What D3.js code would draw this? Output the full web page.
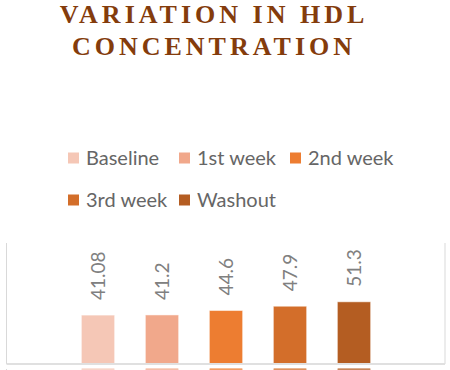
<!DOCTYPE html>
<html>
<head>
<meta charset="utf-8">
<script src="https://cdn.jsdelivr.net/npm/d3@7"></script>
<style>
  body { margin: 0; background: #fff; }
  svg { display: block; }
</style>
</head>
<body>
<div id="canvas"></div>
<script>
"use strict"
let svgWidth = 450;
let svgHeight = 370;

let periods = ["Baseline", "1st week", "2nd week", "3rd week", "Washout"];
let hdlValues = [41.08, 41.2, 44.6, 47.9, 51.3];
let valueLabels = ["41.08", "41.2", "44.6", "47.9", "51.3"];
let periodColors = ["#F5C7B6", "#F1A88B", "#ED7D31", "#D36E2A", "#B45D22"];

let plotLeft = 6.5;
let plotRight = 445;
let plotTop = 243;
let axisY = 364;

let svg = d3.select("#canvas")
    .append("svg")
    .attr("width", svgWidth)
    .attr("height", svgHeight);

svg.append("rect")
    .attr("width", svgWidth)
    .attr("height", svgHeight)
    .attr("fill", "white");

// title
let titleLines = ["VARIATION IN HDL", "CONCENTRATION"];
for (let i = 0; i < titleLines.length; i++) {
    svg.append("text")
        .attr("x", 214)
        .attr("y", 23 + i * 32)
        .attr("text-anchor", "middle")
        .attr("font-family", "Liberation Serif")
        .attr("font-weight", "bold")
        .attr("font-size", 26)
        .attr("letter-spacing", 4)
        .attr("fill", "#843C0C")
        .text(titleLines[i]);
}

// legend
for (let i = 0; i < periods.length; i++) {
    let lx = 68 + (i % 3) * 111;
    let ly = 158 + Math.floor(i / 3) * 42;
    svg.append("rect")
        .attr("x", lx)
        .attr("y", ly - 5.5)
        .attr("width", 11)
        .attr("height", 11)
        .attr("fill", periodColors[i]);
    svg.append("text")
        .attr("x", lx + 18)
        .attr("y", ly)
        .attr("dy", "0.36em")
        .attr("font-family", "Lato")
        .attr("font-size", 20)
        .attr("fill", "#666666")
        .text(periods[i]);
}

let xScale = d3.scaleBand()
    .domain(periods)
    .range([66, 386])
    .paddingInner(0.48)
    .paddingOuter(0.24);

let yScale = d3.scaleLinear()
    .domain([0, 60])
    .range([368.5, 290.5]);

// plot frame
svg.append("line")
    .attr("x1", plotLeft).attr("x2", plotLeft)
    .attr("y1", plotTop).attr("y2", axisY)
    .attr("stroke", "#d9d9d9");
svg.append("line")
    .attr("x1", plotRight).attr("x2", plotRight)
    .attr("y1", plotTop).attr("y2", axisY)
    .attr("stroke", "#d9d9d9");

svg.selectAll(".bar")
    .data(hdlValues)
    .join("rect")
    .attr("class", "bar")
    .attr("x", function(d, i) { return xScale(periods[i]); })
    .attr("y", function(d) { return yScale(d); })
    .attr("width", xScale.bandwidth())
    .attr("height", function(d) { return svgHeight - yScale(d); })
    .attr("fill", function(d, i) { return periodColors[i]; })
    .attr("stroke", "white")
    .attr("stroke-opacity", 0.5)
    .attr("stroke-width", 1);

// cut below the axis line
svg.append("rect")
    .attr("x", 0)
    .attr("y", axisY)
    .attr("width", svgWidth)
    .attr("height", 4.5)
    .attr("fill", "white");
svg.append("line")
    .attr("x1", plotLeft).attr("x2", plotRight)
    .attr("y1", axisY).attr("y2", axisY)
    .attr("stroke", "#e0e0e0")
    .attr("stroke-width", 2);
svg.append("line")
    .attr("x1", plotLeft).attr("x2", plotLeft)
    .attr("y1", 369).attr("y2", svgHeight)
    .attr("stroke", "#d9d9d9");

svg.selectAll(".label")
    .data(hdlValues)
    .join("text")
    .attr("class", "label")
    .attr("transform", function(d, i) {
        let cx = xScale(periods[i]) + xScale.bandwidth() / 2;
        return "translate(" + cx + "," + (yScale(d) - 15) + ") rotate(-90)";
    })
    .attr("dy", "0.36em")
    .attr("text-anchor", "start")
    .attr("font-family", "Lato")
    .attr("font-size", 19)
    .attr("fill", "#808080")
    .text(function(d, i) { return valueLabels[i]; });
</script>
</body>
</html>
